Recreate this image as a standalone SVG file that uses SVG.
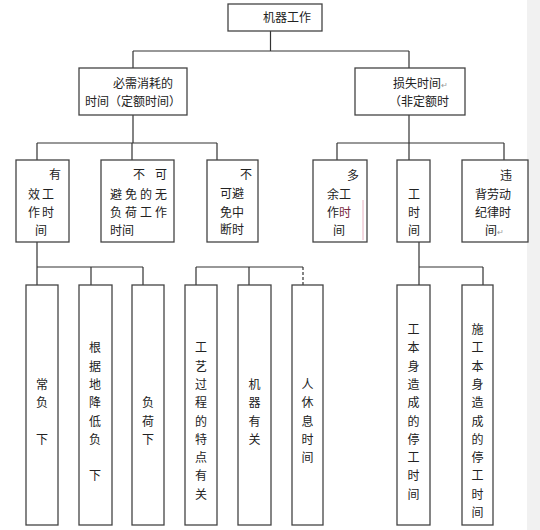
<svg xmlns="http://www.w3.org/2000/svg" width="540" height="530" viewBox="0 0 540 530">
<style>
.box{fill:#fff;stroke:#444;stroke-width:1.3}
.ln{fill:none;stroke:#333;stroke-width:1.2}
text{font-family:"Noto Sans CJK SC","Noto Sans",sans-serif;font-size:12px;fill:#222}
.v{text-anchor:middle}
.mk{font-size:8px;fill:#999}
</style>
<rect x="0" y="0" width="540" height="530" fill="#fff"/>
<rect x="527" y="0" width="13" height="530" fill="#f1f1f1"/>
<g id="connectors">
<path class="ln" d="M270.5 31V51M133 51H409M133 51V68M409 51V68"/>
<path class="ln" d="M133 115V143M37 143H217M37 143V160M132 143V160M217 143V160"/>
<path class="ln" d="M409 115V143M337 143H504M337 143V160M409 143V160M504 143V160"/>
<path class="ln" d="M37 242V267M37 267H143M37 267V285M91 267V285M143 267V285"/>
<path class="ln" d="M196 267H303M196 267V285M249 267V285"/>
<path class="ln" d="M303 267V285" stroke-dasharray="3 2" stroke="#777"/>
<path class="ln" d="M419 242V285M419 267H483M483 267V285"/>
</g>
<g id="n0"><rect class="box" x="228" y="4" width="94" height="27"/><text x="263" y="22">机器工作</text></g>
<g id="n1"><rect class="box" x="79" y="68" width="108" height="47"/><text x="113" y="88">必需消耗的</text><text x="85" y="106">时间（定额时间）</text></g>
<g id="n2"><rect class="box" x="355" y="68" width="110" height="47"/><text x="393" y="88">损失时间<tspan class="mk">↵</tspan></text><text x="389" y="106">（非定额时</text></g>
<g id="n3"><rect class="box" x="16" y="160" width="53" height="82"/><text x="49" y="179">有</text><text x="28" y="199" letter-spacing="2">效工</text><text x="28" y="217" letter-spacing="2">作时</text><text x="35" y="235">间</text></g>
<g id="n4"><rect class="box" x="101" y="160" width="73" height="82"/><text x="133 155" y="179">不可</text><text x="110" y="199" letter-spacing="3">避免的无</text><text x="110" y="217" letter-spacing="3">负荷工作</text><text x="110" y="235">时间</text></g>
<g id="n5"><rect class="box" x="207" y="160" width="51" height="82"/><text x="240" y="179">不</text><text x="220" y="198">可避</text><text x="220" y="217">免中</text><text x="220" y="234" fill="#666">断时</text></g>
<g id="n6"><rect class="box" x="313" y="160" width="54" height="82"/><path d="M363 200V240" stroke="#e8b0c0" stroke-width="1"/><text x="347" y="180">多</text><text x="327" y="199">余工</text><text x="327" y="217">作<tspan fill="#7a2a40">时</tspan></text><text x="333" y="235" fill="#a07888">间</text></g>
<g id="n7"><rect class="box" x="397" y="160" width="33" height="82"/><text x="408" y="199" fill="#444">工</text><text x="408" y="217" fill="#7a2a40">时</text><text x="408" y="235" fill="#6a5058">间</text></g>
<g id="n8"><rect class="box" x="462" y="160" width="66" height="82"/><text x="500" y="180">违</text><text x="475" y="199">背劳动</text><text x="475" y="217">纪律时</text><text x="485" y="235">间<tspan class="mk">↵</tspan></text></g>
<g id="n9"><rect class="box" x="26" y="285" width="32" height="240"/><text class="v"><tspan x="42" y="389">常</tspan><tspan x="42" y="407.2">负</tspan><tspan x="42" y="443.8">下</tspan></text></g>
<g id="n10"><rect class="box" x="79" y="285" width="33" height="240"/><text class="v"><tspan x="95" y="352.3">根</tspan><tspan x="95" y="370.6">据</tspan><tspan x="95" y="388.9">地</tspan><tspan x="95" y="407.2">降</tspan><tspan x="95" y="425.5">低</tspan><tspan x="95" y="443.8">负</tspan><tspan x="95" y="480.4">下</tspan></text></g>
<g id="n11"><rect class="box" x="132" y="285" width="32" height="240"/><text class="v"><tspan x="148" y="407.2">负</tspan><tspan x="148" y="425.5">荷</tspan><tspan x="148" y="443.8">下</tspan></text></g>
<g id="n12"><rect class="box" x="185" y="285" width="32" height="240"/><text class="v"><tspan x="201" y="352.3">工</tspan><tspan x="201" y="370.6">艺</tspan><tspan x="201" y="388.9">过</tspan><tspan x="201" y="407.2">程</tspan><tspan x="201" y="425.5">的</tspan><tspan x="201" y="443.8">特</tspan><tspan x="201" y="462.1">点</tspan><tspan x="201" y="480.4">有</tspan><tspan x="201" y="498.7">关</tspan></text></g>
<g id="n13"><rect class="box" x="238" y="285" width="33" height="240"/><text class="v"><tspan x="254.5" y="388.9">机</tspan><tspan x="254.5" y="407.2">器</tspan><tspan x="254.5" y="425.5">有</tspan><tspan x="254.5" y="443.8">关</tspan></text></g>
<g id="n14"><rect class="box" x="292" y="285" width="31" height="240"/><text class="v"><tspan x="307.5" y="388.9">人</tspan><tspan x="307.5" y="407.2">休</tspan><tspan x="307.5" y="425.5">息</tspan><tspan x="307.5" y="443.8">时</tspan><tspan x="307.5" y="462.1">间</tspan></text></g>
<g id="n15"><rect class="box" x="397" y="285" width="33" height="240"/><text class="v"><tspan x="413.5" y="334">工</tspan><tspan x="413.5" y="352.3">本</tspan><tspan x="413.5" y="370.6">身</tspan><tspan x="413.5" y="388.9">造</tspan><tspan x="413.5" y="407.2">成</tspan><tspan x="413.5" y="425.5">的</tspan><tspan x="413.5" y="443.8">停</tspan><tspan x="413.5" y="462.1">工</tspan><tspan x="413.5" y="480.4">时</tspan><tspan x="413.5" y="498.7">间</tspan></text></g>
<g id="n16"><rect class="box" x="462" y="285" width="31" height="240"/><text class="v"><tspan x="477.5" y="334">施</tspan><tspan x="477.5" y="352.3">工</tspan><tspan x="477.5" y="370.6">本</tspan><tspan x="477.5" y="388.9">身</tspan><tspan x="477.5" y="407.2">造</tspan><tspan x="477.5" y="425.5">成</tspan><tspan x="477.5" y="443.8">的</tspan><tspan x="477.5" y="462.1">停</tspan><tspan x="477.5" y="480.4">工</tspan><tspan x="477.5" y="498.7">时</tspan><tspan x="477.5" y="517">间</tspan></text></g>
</svg>
